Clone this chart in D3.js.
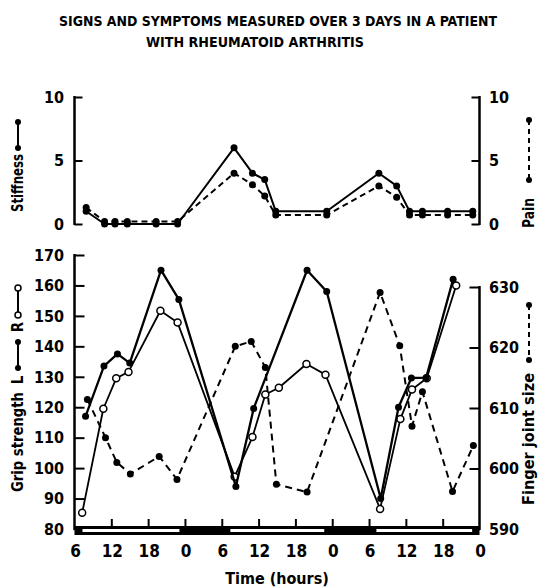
<!DOCTYPE html>
<html><head><meta charset="utf-8">
<script src="https://cdnjs.cloudflare.com/ajax/libs/d3/7.8.5/d3.min.js"></script>
<style>
html,body{margin:0;padding:0;background:#fff;}
svg{display:block;}
text{font-family:"Liberation Sans Narrow","DejaVu Sans Condensed",sans-serif;font-weight:bold;fill:#000;}
</style></head>
<body>
<script>
// ---- DATA ----
const titleLines = ["SIGNS AND SYMPTOMS MEASURED OVER 3 DAYS IN A PATIENT", "WITH RHEUMATOID ARTHRITIS"];
const xTicks = [6,12,18,24,30,36,42,48,54,60,66,72];           // hours from start of day 1
const dayPeriods = [[7.3,23.1],[31.4,46.7],[55.2,70.8]];         // light (awake) periods
const topTicks = [0,5,10];
const gripTicks = [80,90,100,110,120,130,140,150,160,170];
const jointTicks = [590,600,610,620,630];

// top panel: stiffness (solid) and pain (dashed)
const symptomTimes = [7.9,10.9,12.6,14.6,19.3,22.8,32.0,35.0,37.0,38.8,47.1,55.6,58.5,60.6,62.7,66.8,70.9];
const stiffness = [1.0,0,0,0,0,0,6.0,4.0,3.5,1.0,1.0,4.0,3.0,1.0,1.0,1.0,1.0];
const pain = [1.3,0.2,0.2,0.2,0.2,0.2,4.0,3.1,2.2,0.7,0.7,3.0,2.1,0.7,0.7,0.7,0.7];

// bottom panel: grip strength L (filled), R (open), finger joint size (dashed)
const gripLTimes = [7.8,10.8,13.0,15.0,20.1,23.0,32.3,35.2,43.9,47.1,55.9,58.8,60.9,63.3,67.7];
const gripL = [117,133.5,137.5,134.5,165,155.4,94,119.6,165,158,90,120,129.6,129.7,162];
const gripRTimes = [7.25,10.7,12.8,14.8,20.0,22.8,32.1,35.0,37.1,39.3,43.8,46.9,55.8,59.1,61.0,63.4,68.2];
const gripR = [85.3,119.5,129.5,131.6,151.7,147.8,97.2,110.2,124.2,126.4,134.2,130.7,86.6,116.1,125.8,129.5,160];
const jointTimes = [8.1,11.05,12.9,15.1,19.8,22.7,32.2,34.8,37.1,38.9,43.9,55.8,59.0,61.0,62.7,67.6,71.0];
const jointSize = [611.4,605.1,601,599.1,602,598.2,620.2,621,616.7,597.4,596.1,629.1,620.3,607,612.7,596.2,603.8];

// ---- DRAW ----
const W = 539, H = 588;
const svg = d3.select("body").append("svg").attr("width", W).attr("height", H);

const x = d3.scaleLinear().domain([6,72]).range([74.5,479.5]);
const yTop = d3.scaleLinear().domain([0,10]).range([224,97]);
const yGrip = d3.scaleLinear().domain([80,170]).range([529,255]);
const yJoint = d3.scaleLinear().domain([590,630]).range([529,287]);

// title
svg.append("text").attr("x",59).attr("y",26).attr("font-size",14).attr("textLength",438).attr("lengthAdjust","spacingAndGlyphs").text(titleLines[0]);
svg.append("text").attr("x",146).attr("y",47).attr("font-size",14).attr("textLength",218).attr("lengthAdjust","spacingAndGlyphs").text(titleLines[1]);

// axes helper
function leftAxis(scale, ticks, tickLen){
  const g = svg.append("g").attr("transform","translate(74.5,0)");
  g.call(d3.axisRight(scale).tickValues(ticks).tickSize(tickLen).tickFormat(""));
  g.select(".domain").remove();
  g.selectAll(".tick line").attr("stroke","#000").attr("stroke-width",2);
  g.append("line").attr("x1",0).attr("x2",0).attr("y1",scale.range()[1]-1).attr("y2",scale.range()[0]+1).attr("stroke","#000").attr("stroke-width",2.5);
  svg.append("g").attr("transform","translate(64,0)")
    .selectAll("text").data(ticks).join("text")
    .attr("y",d=>scale(d)).attr("dy","0.36em").attr("text-anchor","end").attr("font-size",16).text(d=>d);
}
function rightAxis(scale, ticks, tickLen){
  const g = svg.append("g").attr("transform","translate(479.5,0)");
  g.call(d3.axisLeft(scale).tickValues(ticks).tickSize(tickLen).tickFormat(""));
  g.select(".domain").remove();
  g.selectAll(".tick line").attr("stroke","#000").attr("stroke-width",2);
  g.append("line").attr("x1",0).attr("x2",0).attr("y1",scale.range()[1]-1).attr("y2",scale.range()[0]+1).attr("stroke","#000").attr("stroke-width",2.5);
  svg.append("g").attr("transform","translate(489,0)")
    .selectAll("text").data(ticks).join("text")
    .attr("y",d=>scale(d)).attr("dy","0.36em").attr("text-anchor","start").attr("font-size",16).text(d=>d);
}
leftAxis(yTop, topTicks, 8);
rightAxis(yTop, topTicks, 8);
leftAxis(yGrip, gripTicks, 10);
rightAxis(yJoint, jointTicks, 10);

// day/night bar on x axis
svg.append("rect").attr("x",x(6)).attr("y",526).attr("width",x(72)-x(6)).attr("height",9).attr("fill","#000");
svg.selectAll("rect.day").data(dayPeriods).join("rect").attr("class","day")
  .attr("x",d=>x(d[0])).attr("width",d=>x(d[1])-x(d[0])).attr("y",529).attr("height",3).attr("fill","#fff");
// x ticks
const xg = svg.append("g").attr("transform","translate(0,527)");
xg.call(d3.axisTop(x).tickValues(xTicks.slice(1,-1)).tickSize(8).tickFormat(""));
xg.select(".domain").remove();
xg.selectAll(".tick line").attr("stroke","#000").attr("stroke-width",2);
svg.append("g").selectAll("text").data(xTicks).join("text")
  .attr("x",d=>x(d)+1).attr("y",557).attr("text-anchor","middle").attr("font-size",17).text(d=>d%24);
svg.append("text").attr("x",277).attr("y",584).attr("text-anchor","middle").attr("font-size",16).text("Time (hours)");

// series drawing
function series(times, vals, scale, opts){
  const pts = times.map((t,i)=>[x(t), scale(vals[i])]);
  svg.append("path").attr("d", d3.line()(pts)).attr("fill","none").attr("stroke","#000")
    .attr("stroke-width",opts.w).attr("stroke-dasharray",opts.dash||null).attr("stroke-linejoin","round");
  svg.append("g").selectAll("circle").data(pts).join("circle")
    .attr("cx",d=>d[0]).attr("cy",d=>d[1]).attr("r",opts.r)
    .attr("fill",opts.open?"#fff":"#000").attr("stroke","#000").attr("stroke-width",opts.open?1.5:0);
}
series(symptomTimes, pain, yTop, {w:2, dash:"6,4", r:3.5});
series(symptomTimes, stiffness, yTop, {w:2, r:3.5});
series(jointTimes, jointSize, yJoint, {w:2, dash:"7,5", r:3.5});
series(gripRTimes, gripR, yGrip, {w:1.8, r:3.5, open:true});
series(gripLTimes, gripL, yGrip, {w:2.3, r:3.5});

// rotated axis titles with legend glyphs
function glyph(cx, y1, y2, open, dash){
  svg.append("line").attr("x1",cx).attr("x2",cx).attr("y1",y1).attr("y2",y2).attr("stroke","#000")
    .attr("stroke-width",2).attr("stroke-dasharray",dash||null);
  [y1,y2].forEach(y=>svg.append("circle").attr("cx",cx).attr("cy",y).attr("r",3)
    .attr("fill",open?"#fff":"#000").attr("stroke","#000").attr("stroke-width",open?1.5:0));
}
function vtext(cx, cy, s, size, len){
  const t = svg.append("text").attr("transform",`translate(${cx},${cy}) rotate(-90)`).attr("text-anchor","middle")
    .attr("dy","0.35em").attr("font-size",size).text(s);
  if (len) t.attr("textLength",len).attr("lengthAdjust","spacingAndGlyphs");
}
vtext(18, 183, "Stiffness", 15, 58);
glyph(18, 122, 148, false);
vtext(18, 442, "Grip strength", 15, 100);
vtext(18, 380, "L", 15);
glyph(18, 342, 368, false);
vtext(18, 327, "R", 15);
glyph(18, 288, 315, true);
vtext(529, 213, "Pain", 15, 30);
glyph(529, 120, 180, false, "5,4");
vtext(529, 439, "Finger joint size", 15, 132);
glyph(529, 305, 360, false, "5,4");
</script>
</body></html>
